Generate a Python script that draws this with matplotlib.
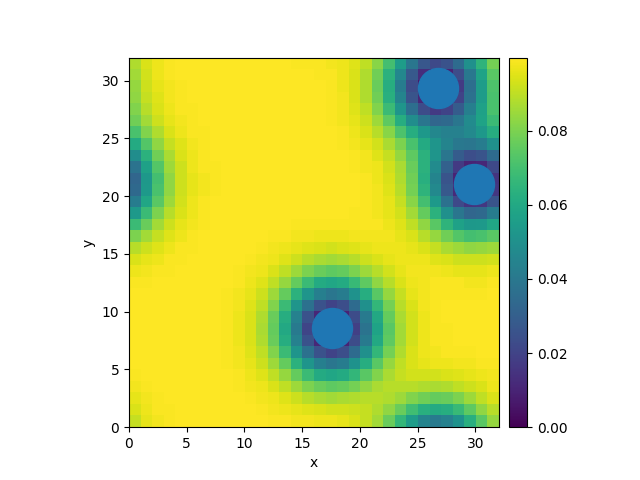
import matplotlib
matplotlib.use("Agg")
import matplotlib.pyplot as plt
import numpy as np
from mpl_toolkits.axes_grid1 import make_axes_locatable

# field values on the 32x32 grid, in units of 1e-3, row 0 = bottom (y in [0, 1])
rows = [
    [91, 96, 98, 99, 100, 100, 100, 100, 100, 100, 100, 100, 99, 99, 98, 98, 97, 97, 96, 94, 91, 86, 77, 66, 55, 45, 41, 44, 51, 63, 74, 84],
    [94, 97, 99, 99, 100, 100, 100, 100, 100, 100, 100, 99, 98, 97, 96, 95, 94, 93, 93, 92, 91, 88, 83, 77, 69, 63, 61, 62, 67, 75, 83, 89],
    [96, 98, 99, 100, 100, 100, 100, 100, 100, 100, 99, 98, 97, 95, 92, 89, 87, 86, 87, 88, 89, 89, 88, 85, 81, 78, 76, 77, 80, 85, 90, 94],
    [98, 99, 100, 100, 100, 100, 100, 100, 100, 99, 98, 97, 94, 90, 85, 80, 77, 75, 76, 79, 83, 87, 89, 89, 89, 88, 87, 88, 90, 92, 94, 97],
    [99, 100, 100, 100, 100, 100, 100, 100, 100, 99, 97, 95, 90, 84, 76, 68, 61, 59, 61, 66, 74, 81, 87, 91, 93, 93, 93, 94, 95, 96, 97, 98],
    [100, 100, 100, 100, 100, 100, 100, 100, 99, 98, 96, 92, 85, 76, 64, 52, 43, 39, 42, 51, 62, 74, 84, 90, 94, 96, 97, 97, 98, 98, 99, 99],
    [100, 100, 100, 100, 100, 100, 100, 100, 99, 98, 95, 90, 81, 68, 52, 37, 25, 20, 24, 35, 50, 66, 79, 88, 94, 97, 98, 99, 99, 99, 100, 100],
    [100, 100, 100, 100, 100, 100, 100, 100, 99, 97, 94, 88, 77, 62, 44, 25, 11, 5, 10, 23, 41, 60, 75, 86, 93, 97, 99, 99, 100, 100, 100, 100],
    [100, 100, 100, 100, 100, 100, 100, 100, 99, 97, 94, 87, 76, 60, 41, 21, 6, 0, 5, 19, 38, 58, 74, 86, 93, 97, 99, 99, 100, 100, 100, 100],
    [100, 100, 100, 100, 100, 100, 100, 100, 99, 97, 94, 88, 77, 62, 44, 25, 11, 5, 10, 23, 41, 60, 76, 87, 93, 97, 99, 100, 100, 100, 100, 100],
    [100, 100, 100, 100, 100, 100, 100, 100, 99, 98, 95, 90, 81, 68, 52, 37, 25, 20, 24, 35, 50, 66, 79, 89, 94, 98, 99, 100, 100, 100, 100, 100],
    [100, 100, 100, 100, 100, 100, 100, 100, 99, 98, 96, 92, 85, 76, 64, 52, 43, 39, 42, 51, 62, 74, 84, 91, 96, 98, 99, 99, 99, 99, 99, 100],
    [99, 99, 100, 100, 100, 100, 100, 100, 100, 99, 97, 95, 90, 84, 76, 68, 61, 59, 61, 67, 75, 83, 89, 94, 97, 98, 99, 99, 99, 98, 98, 99],
    [97, 98, 99, 99, 100, 100, 100, 100, 100, 99, 98, 97, 94, 90, 85, 80, 77, 75, 76, 80, 85, 89, 93, 96, 98, 98, 98, 97, 96, 96, 96, 97],
    [94, 96, 97, 99, 99, 100, 100, 100, 100, 100, 99, 98, 97, 95, 92, 89, 87, 86, 87, 89, 92, 94, 96, 97, 97, 97, 95, 94, 92, 92, 92, 93],
    [89, 92, 95, 97, 99, 99, 100, 100, 100, 100, 100, 99, 98, 97, 96, 95, 94, 93, 94, 95, 96, 97, 97, 97, 96, 94, 91, 87, 85, 83, 84, 85],
    [80, 86, 91, 95, 97, 99, 100, 100, 100, 100, 100, 100, 99, 99, 98, 98, 97, 97, 97, 98, 98, 98, 98, 96, 94, 89, 84, 78, 73, 70, 71, 74],
    [68, 77, 86, 92, 96, 98, 99, 100, 100, 100, 100, 100, 100, 100, 99, 99, 99, 99, 99, 99, 99, 99, 97, 95, 90, 83, 74, 65, 57, 53, 54, 59],
    [54, 68, 80, 89, 94, 97, 99, 100, 100, 100, 100, 100, 100, 100, 100, 100, 100, 100, 100, 99, 99, 98, 96, 93, 86, 76, 64, 50, 39, 33, 34, 42],
    [42, 59, 74, 85, 93, 97, 99, 100, 100, 100, 100, 100, 100, 100, 100, 100, 100, 100, 100, 100, 99, 98, 96, 91, 82, 70, 54, 37, 22, 15, 16, 26],
    [34, 54, 71, 83, 92, 96, 98, 99, 100, 100, 100, 100, 100, 100, 100, 100, 100, 100, 100, 100, 99, 98, 95, 89, 79, 65, 47, 28, 12, 3, 5, 16],
    [33, 53, 70, 83, 92, 96, 98, 99, 100, 100, 100, 100, 100, 100, 100, 100, 100, 100, 100, 100, 99, 97, 94, 88, 78, 63, 45, 26, 10, 1, 3, 15],
    [38, 57, 73, 85, 92, 97, 99, 99, 100, 100, 100, 100, 100, 100, 100, 100, 100, 100, 100, 99, 98, 97, 93, 87, 77, 64, 48, 31, 17, 10, 11, 22],
    [49, 64, 78, 87, 94, 97, 99, 100, 100, 100, 100, 100, 100, 100, 100, 100, 100, 100, 100, 99, 98, 95, 91, 84, 75, 64, 52, 39, 29, 24, 26, 35],
    [61, 73, 83, 91, 95, 98, 99, 100, 100, 100, 100, 100, 100, 100, 100, 100, 100, 100, 99, 98, 96, 93, 87, 80, 71, 61, 52, 45, 40, 39, 42, 50],
    [71, 81, 88, 94, 97, 99, 99, 100, 100, 100, 100, 100, 100, 100, 100, 100, 100, 100, 99, 97, 94, 89, 82, 72, 62, 53, 46, 44, 44, 47, 53, 62],
    [78, 86, 92, 96, 98, 99, 100, 100, 100, 100, 100, 100, 100, 100, 100, 100, 100, 99, 98, 96, 92, 85, 75, 62, 49, 39, 33, 34, 39, 48, 58, 68],
    [81, 89, 94, 97, 99, 99, 100, 100, 100, 100, 100, 100, 100, 100, 100, 100, 100, 99, 98, 95, 90, 81, 68, 52, 36, 23, 17, 20, 29, 43, 57, 71],
    [83, 91, 95, 98, 99, 100, 100, 100, 100, 100, 100, 100, 100, 100, 100, 100, 100, 99, 98, 94, 88, 78, 63, 45, 26, 11, 4, 8, 20, 37, 55, 71],
    [84, 92, 96, 98, 99, 100, 100, 100, 100, 100, 100, 100, 100, 100, 100, 100, 100, 99, 97, 94, 88, 77, 62, 42, 23, 7, 0, 4, 17, 36, 55, 72],
    [86, 93, 97, 99, 100, 100, 100, 100, 100, 100, 100, 100, 100, 100, 100, 100, 99, 99, 97, 94, 88, 78, 64, 46, 28, 13, 7, 10, 23, 40, 58, 74],
    [88, 94, 97, 99, 100, 100, 100, 100, 100, 100, 100, 100, 100, 100, 99, 99, 99, 98, 97, 95, 90, 82, 70, 55, 39, 27, 22, 25, 35, 50, 65, 79],
]

# point sources drawn on top
px = [17.58, 26.75, 29.9]
py = [8.6, 29.37, 21.05]

field = np.array(rows) / 1000.0

fig, ax = plt.subplots(figsize=(6.4, 4.8), dpi=100)
im = ax.imshow(field, origin="lower", extent=[0, 32, 0, 32],
               cmap="viridis", interpolation="nearest",
               vmin=0.0, vmax=0.0997)
ax.scatter(px, py, s=830, color="C0")
ax.set_xlim(0, 32)
ax.set_ylim(0, 32)
ax.set_xlabel("x")
ax.set_ylabel("y")

divider = make_axes_locatable(ax)
cax = divider.append_axes("right", size="5%", pad=0.1)
fig.colorbar(im, cax=cax)

fig.savefig("out.png", dpi=100)
